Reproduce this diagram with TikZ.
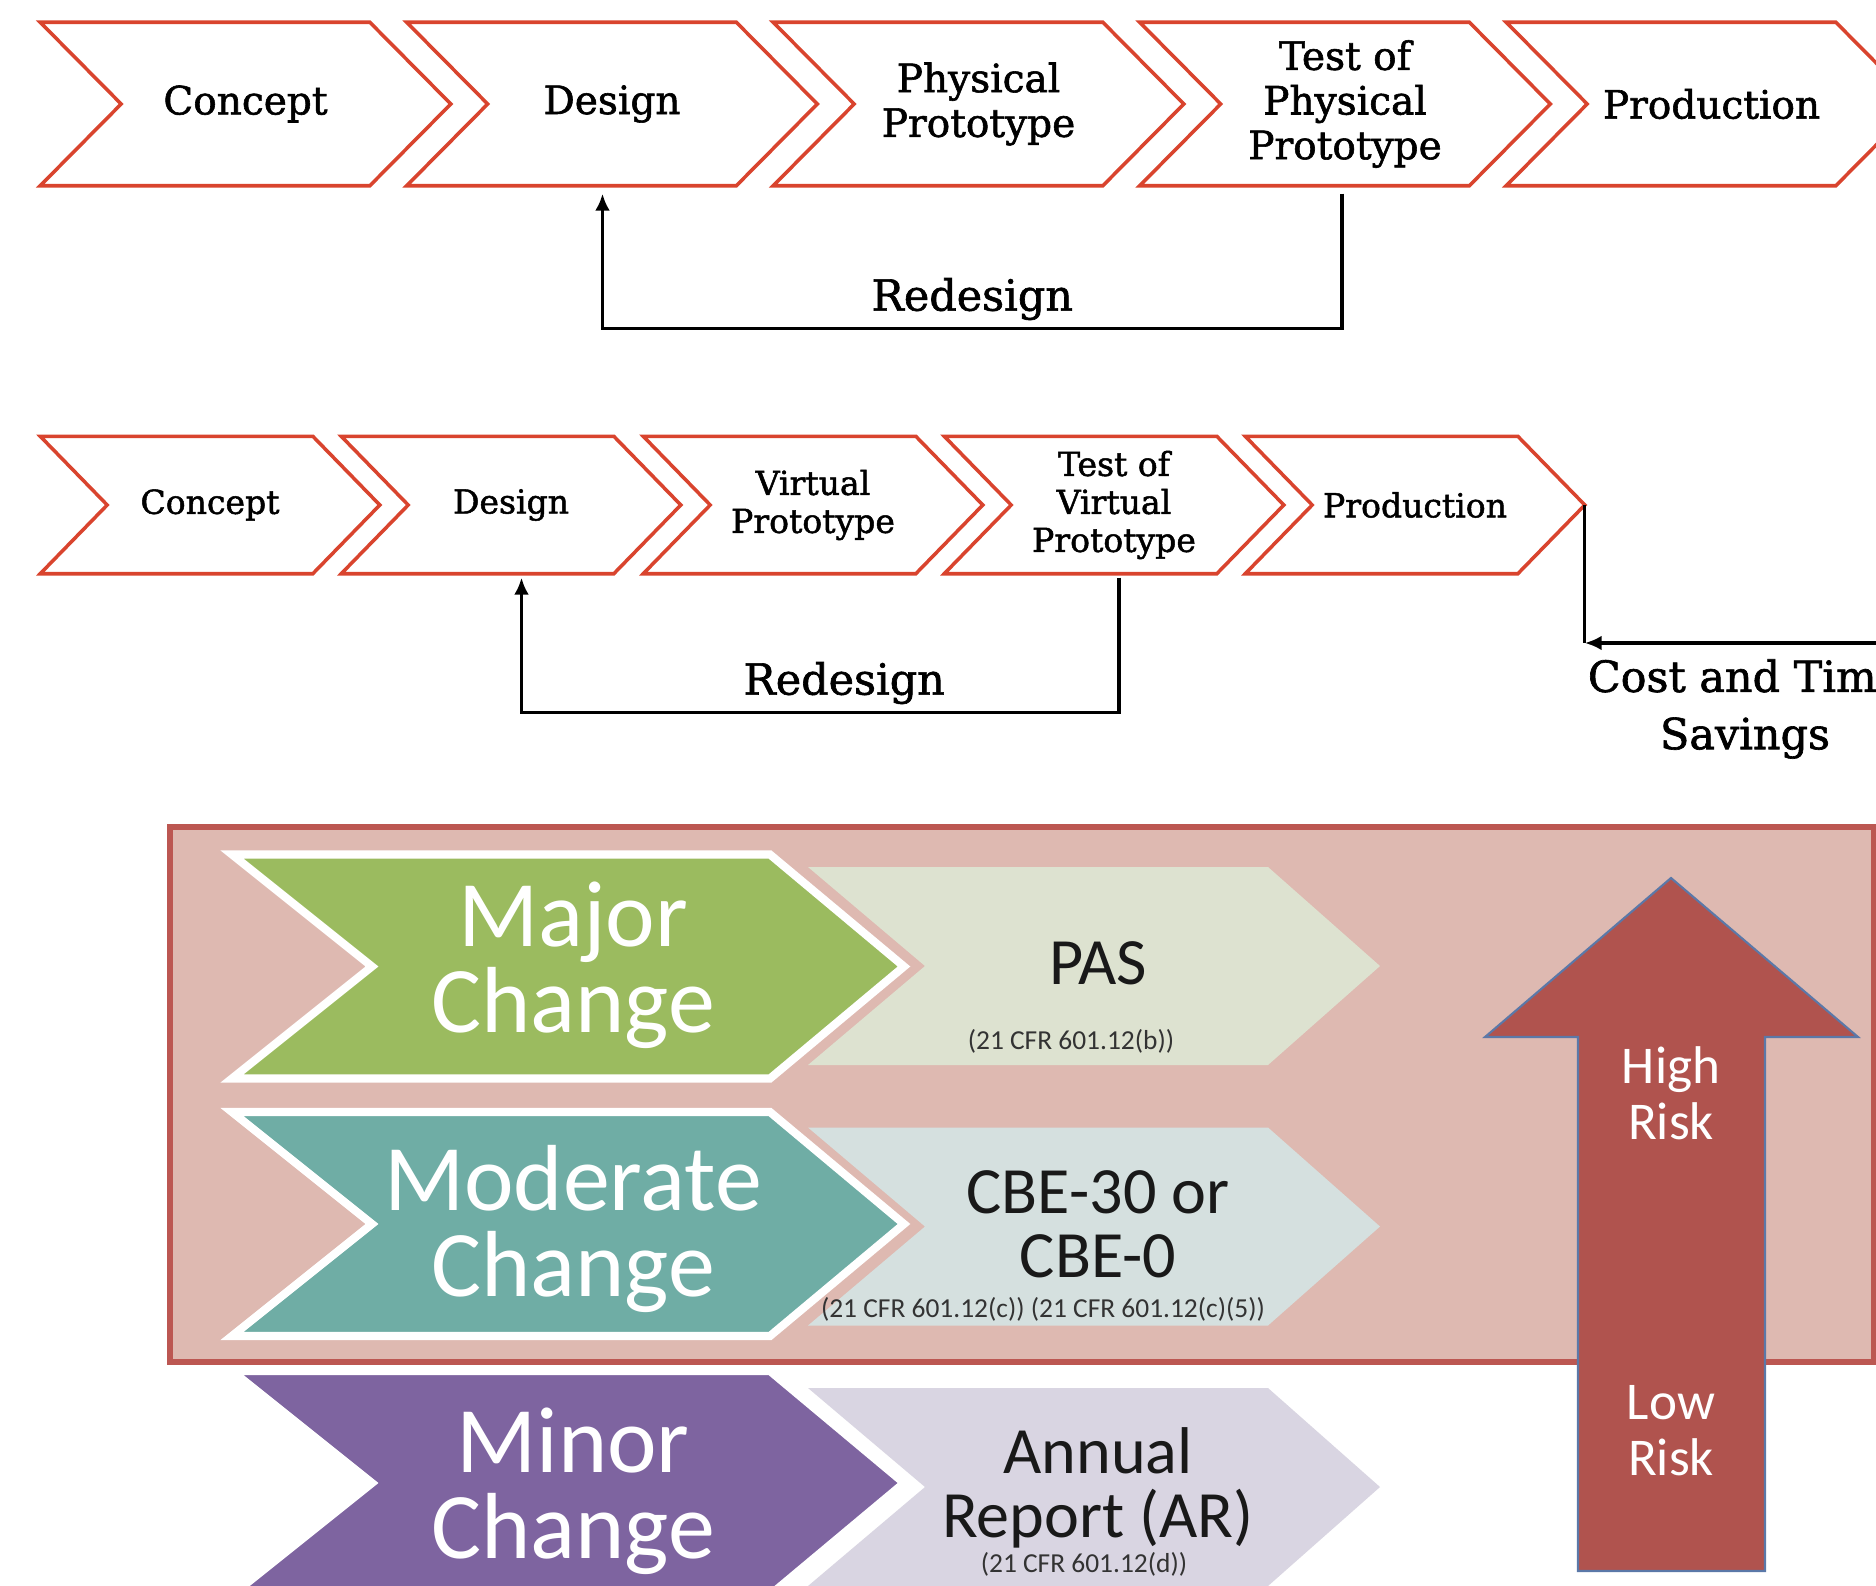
\documentclass[tikz,border=0pt]{standalone}
\usepackage{fontspec}
\usetikzlibrary{calc, arrows.meta}
\newfontfamily\slabfont[FakeBold=1.5]{DejaVu Serif}
\newfontfamily\calibfont{Carlito}

\begin{document}
\begin{tikzpicture}[x=0.01cm, y=-0.01cm,
    stage/.style={inner sep=0pt, align=center, text=black},
    stageline/.style={draw=stageRed, line width=1pt, line join=miter},
    redo/.style={line width=0.9pt, -{Latex[length=4.8pt, width=4.2pt]}},
    redotext/.style={font=\slabfont\fontsize{12.2}{16.3}\selectfont, inner sep=2pt, align=center},
    change/.style={font=\calibfont\fontsize{26.7}{24.5}\selectfont, text=white, align=center, inner sep=0pt},
    route/.style={font=\calibfont\fontsize{18.8}{18.3}\selectfont, text=black!90, align=center, inner sep=0pt},
    cfr/.style={font=\calibfont\fontsize{7.8}{9}\selectfont, text=black!80, inner sep=0pt},
    risk/.style={font=\calibfont\fontsize{15.1}{15.9}\selectfont, text=white, align=center, inner sep=0pt}]

    % Define colours
    \definecolor{stageRed}{HTML}{D9442E}
    \definecolor{boxFill}{HTML}{DEB9B1}
    \definecolor{boxBorder}{HTML}{BC5752}
    \definecolor{majorGreen}{HTML}{9BBB5F}
    \definecolor{moderateTeal}{HTML}{6FADA5}
    \definecolor{minorPurple}{HTML}{7E64A0}
    \definecolor{pasFill}{HTML}{DDE2D0}
    \definecolor{cbeFill}{HTML}{D5E0DF}
    \definecolor{arFill}{HTML}{D9D5E2}
    \definecolor{riskRed}{HTML}{B0534E}
    \definecolor{riskEdge}{HTML}{5B78A8}

    % Canvas
    \useasboundingbox (0,0) rectangle (1876,1585);
    \fill[white] (0,0) rectangle (1876,1585);
    \clip (0,0) rectangle (1876,1585);

    % Tip depth of the chevrons in each row
    \def\tipA{81}
    \def\tipB{67}

    % Draw first row (physical prototype)
    \foreach \i/\xl/\txt in {1/41/Concept, 2/407.5/Design, 3/774/{Physical\\Prototype},
                             4/1140.5/{Test of\\Physical\\Prototype}, 5/1507/Production} {
        \node[stage, minimum width=4.09cm, minimum height=1.62cm,
              font=\slabfont\fontsize{11.1}{12.7}\selectfont] (p\i) at (\xl+204.5,104) {\txt};
        \draw[stageline] (p\i.north west) -- ($(p\i.north east)+(-\tipA,0)$) -- (p\i.east)
            -- ($(p\i.south east)+(-\tipA,0)$) -- (p\i.south west) -- ($(p\i.west)+(\tipA,0)$) -- cycle;
    }

    % Redesign loop of the first row
    \draw[redo] ($(p4.south)+(-3,8)$) -- ++(0,135) -| ($(p2.south)+(-9.5,8)$)
        node[pos=0.25, above, redotext] (redoA) {Redesign};

    % Draw second row (virtual prototype)
    \foreach \i/\xl/\txt in {1/41/Concept, 2/342/Design, 3/644/{Virtual\\Prototype},
                             4/945/{Test of\\Virtual\\Prototype}, 5/1246/Production} {
        \node[stage, minimum width=3.38cm, minimum height=1.36cm,
              font=\slabfont\fontsize{9.4}{10.8}\selectfont] (v\i) at (\xl+169,505) {\txt};
        \draw[stageline] (v\i.north west) -- ($(v\i.north east)+(-\tipB,0)$) -- (v\i.east)
            -- ($(v\i.south east)+(-\tipB,0)$) -- (v\i.south west) -- ($(v\i.west)+(\tipB,0)$) -- cycle;
    }

    % Redesign loop of the second row
    \draw[redo] ($(v4.south)+(5,4)$) -- ++(0,135) -| ($(v2.south)+(10.5,4)$)
        node[pos=0.23, above, redotext] (redoB) {Redesign};

    % Savings arrow
    \coordinate (saveEnd) at (1900,643);
    \draw[line width=0.9pt] (v5.east) -- (v5.east |- saveEnd);
    \draw[redo] (saveEnd) -- (v5.east |- saveEnd);
    \node[redotext, inner sep=0pt] (save) at (1745,709) {Cost and Time\\Savings};

    % Draw the risk box
    \draw[fill=boxFill, draw=boxBorder, line width=1.7pt] (170,827) rectangle (1874,1362);

    % Pale chevrons for the filing routes
    \foreach \yc/\col in {966/pasFill, 1226.5/cbeFill, 1487/arFill}
        \fill[\col] (808,\yc-99) -- (1268,\yc-99) -- (1380,\yc) -- (1268,\yc+99)
            -- (808,\yc+99) -- (925,\yc) -- cycle;

    % Coloured chevrons for the kind of change
    \foreach \yc/\col in {966.5/majorGreen, 1224/moderateTeal, 1483/minorPurple}
        \filldraw[fill=\col, draw=white, line width=2.3pt, line join=miter]
            (232,\yc-112) -- (770,\yc-112) -- (904,\yc) -- (770,\yc+112)
            -- (232,\yc+112) -- (372,\yc) -- cycle;

    % Labels
    \node[change] (major) at (573,965) {Major\\Change};
    \node[change] (moderate) at (573,1229) {Moderate\\Change};
    \node[change] (minor) at (573,1491) {Minor\\Change};

    \node[route] (pas) at (1098,963) {PAS};
    \node[cfr] (pasRef) at (1071,1041) {(21 CFR 601.12(b))};
    \node[route] (cbe) at (1098,1224) {CBE-30 or\\CBE-0};
    \node[cfr] (cbeRef) at (1043,1309) {(21 CFR 601.12(c)) (21 CFR 601.12(c)(5))};
    \node[route] (ar) at (1098,1488) {Annual\\Report (AR)};
    \node[cfr] (arRef) at (1084,1564) {(21 CFR 601.12(d))};

    % Risk arrow
    \draw[fill=riskRed, draw=riskEdge, line width=0.6pt, line join=miter]
        (1671,878) -- (1858,1037) -- (1765,1037) -- (1765,1571) -- (1578,1571)
        -- (1578,1037) -- (1485,1037) -- cycle;
    \node[risk] (high) at (1671,1093) {High\\Risk};
    \node[risk] (low) at (1671,1431) {Low\\Risk};

\end{tikzpicture}
\end{document}
